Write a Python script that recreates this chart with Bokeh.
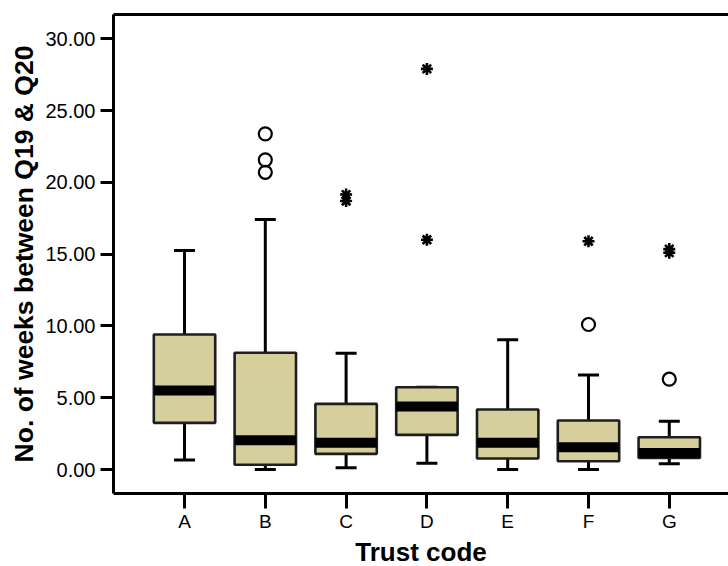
from bokeh.plotting import figure
from bokeh.models import Range1d, FixedTicker, LinearAxis, Title, ColumnDataSource, PrintfTickFormatter
from bokeh.embed import file_html
from bokeh.resources import INLINE

# ---- data ----
categories = ["A", "B", "C", "D", "E", "F", "G"]
lower_whisker = [0.67, 0.00, 0.12, 0.44, 0.00, 0.00, 0.40]
q1 = [3.25, 0.33, 1.09, 2.41, 0.77, 0.58, 0.81]
median = [5.50, 2.04, 1.86, 4.39, 1.86, 1.55, 1.15]
q3 = [9.40, 8.13, 4.57, 5.73, 4.18, 3.41, 2.25]
upper_whisker = [15.25, 17.41, 8.10, 5.73, 9.03, 6.59, 3.37]

# outliers (open circles) and extremes (stars)
outlier_cat = ["B", "B", "B", "F", "G"]
outlier_val = [23.38, 21.57, 20.70, 10.10, 6.29]
extreme_cat = ["C", "C", "D", "D", "F", "G", "G"]
extreme_val = [19.15, 18.70, 27.90, 16.00, 15.90, 15.35, 15.10]

y_ticks = [0, 5, 10, 15, 20, 25, 30]

# ---- build ----
pos = {c: i + 1 for i, c in enumerate(categories)}
xs = [pos[c] for c in categories]
box_half = 0.38
cap_half = 0.13

src = ColumnDataSource(dict(
    x=xs,
    left=[x - box_half for x in xs],
    right=[x + box_half for x in xs],
    cap_l=[x - cap_half for x in xs],
    cap_r=[x + cap_half for x in xs],
    lo=lower_whisker, q1=q1, med=median, q3=q3, hi=upper_whisker,
))

p = figure(width=728, height=566,
           x_range=Range1d(0.121, 7.733), y_range=Range1d(-1.67, 31.69),
           output_backend="svg", toolbar_location=None,
           min_border_left=113, min_border_right=0,
           min_border_top=14, min_border_bottom=73)
p.grid.visible = False
p.outline_line_color = None
p.background_fill_color = "white"
p.border_fill_color = "white"

# whiskers
p.segment(x0="x", y0="q3", x1="x", y1="hi", source=src, line_color="black", line_width=3)
p.segment(x0="x", y0="lo", x1="x", y1="q1", source=src, line_color="black", line_width=3)
# caps
p.segment(x0="cap_l", y0="hi", x1="cap_r", y1="hi", source=src, line_color="black", line_width=3)
p.segment(x0="cap_l", y0="lo", x1="cap_r", y1="lo", source=src, line_color="black", line_width=3)
# boxes
p.quad(left="left", right="right", bottom="q1", top="q3", source=src,
       fill_color="#D4CF9B", line_color="#1e1e1e", line_width=2.6)
# medians
p.segment(x0="left", y0="med", x1="right", y1="med", source=src,
          line_color="black", line_width=10, line_cap="butt")

# outliers and extremes
p.scatter([pos[c] for c in outlier_cat], outlier_val, marker="circle", size=13,
          fill_color=None, line_color="black", line_width=2.2)
p.scatter([pos[c] for c in extreme_cat], extreme_val, marker="asterisk", size=12,
          line_color="black", line_width=2.6)

FONT = "Liberation Sans"

yax = p.yaxis[0]
yax.ticker = FixedTicker(ticks=y_ticks)
yax.formatter = PrintfTickFormatter(format="%.2f")
yax.axis_line_width = 3
yax.major_tick_line_width = 3
yax.major_tick_out = 13
yax.major_tick_in = 0
yax.minor_tick_line_color = None
yax.major_label_standoff = 5
yax.major_label_text_font = FONT
yax.major_label_text_font_size = "20px"
yax.major_label_text_color = "black"

xax = p.xaxis[0]
xax.ticker = FixedTicker(ticks=xs)
xax.major_label_overrides = {x: c for x, c in zip(xs, categories)}
xax.axis_line_width = 3
xax.major_tick_line_width = 3
xax.major_tick_out = 15
xax.major_tick_in = 0
xax.minor_tick_line_color = None
xax.major_label_standoff = 2
xax.major_label_text_font = FONT
xax.major_label_text_font_size = "19px"
xax.major_label_text_color = "black"

# top frame line
top_axis = LinearAxis(ticker=FixedTicker(ticks=[]), axis_line_width=3,
                      major_tick_line_color=None, minor_tick_line_color=None,
                      major_label_standoff=0, major_tick_out=0, major_tick_in=0)
p.add_layout(top_axis, "above")

# axis titles (as titles, so they can be nudged along the frame)
p.add_layout(Title(text="No. of weeks between Q19 & Q20", align="center", offset=-4,
                   standoff=8, text_font=FONT, text_font_style="bold",
                   text_font_size="26.5px", text_color="black"), "left")
p.add_layout(Title(text="Trust code", align="center", offset=5, standoff=0,
                   text_font=FONT, text_font_style="bold", text_font_size="26px",
                   text_line_height=0.75, text_color="black"), "below")

open("out.html", "w").write(file_html(p, INLINE))
